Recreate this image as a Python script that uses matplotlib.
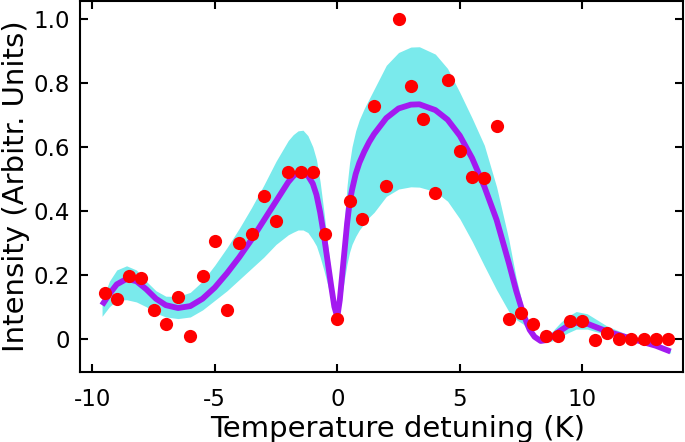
import matplotlib
matplotlib.use("Agg")
import matplotlib.pyplot as plt

plt.rcParams['axes.unicode_minus'] = False
plt.rcParams['font.family'] = ['DejaVu Sans']

# measured points
det = [-9.5, -9.0, -8.5, -8.0, -7.5, -7.0, -6.5, -6.0, -5.5, -5.0, -4.5, -4.0,
       -3.5, -3.0, -2.5, -2.0, -1.5, -1.0, -0.5, 0.0, 0.5, 1.0, 1.5, 2.0,
       2.5, 3.0, 3.5, 4.0, 4.5, 5.0, 5.5, 6.0, 6.5, 7.0, 7.5, 8.0, 8.5, 9.0,
       9.5, 10.0, 10.5, 11.0, 11.5, 12.0, 12.5, 13.0, 13.5]
inten = [0.143, 0.125, 0.195, 0.19, 0.09, 0.046, 0.132, 0.01, 0.195, 0.306,
         0.09, 0.30, 0.327, 0.445, 0.369, 0.52, 0.52, 0.52, 0.327, 0.062,
         0.432, 0.375, 0.728, 0.479, 1.0, 0.79, 0.688, 0.456, 0.808, 0.588,
         0.507, 0.502, 0.665, 0.062, 0.08, 0.046, 0.01, 0.01, 0.056, 0.056,
         -0.003, 0.017, 0.0, 0.0, 0.0, 0.0, 0.0]

# fitted curve and its confidence band
fit_x = [-9.6, -9.3, -9.0, -8.6, -8.2, -7.8, -7.4, -7.0, -6.5, -6.0, -5.5,
         -5.0, -4.5, -4.0, -3.5, -3.0, -2.5, -2.0, -1.8, -1.6, -1.4, -1.2,
         -1.0, -0.85, -0.7, -0.55, -0.4, -0.25, -0.12, 0.0, 0.1, 0.2, 0.3,
         0.4, 0.5, 0.6, 0.75, 0.9, 1.1, 1.3, 1.5, 2.0, 2.5, 3.0, 3.35, 4.0,
         4.5, 5.0, 5.5, 6.0, 6.5, 7.0, 7.3, 7.6, 7.85, 8.05, 8.3, 8.55, 8.8,
         9.1, 9.4, 9.75, 10.2, 11.0, 12.0, 13.0, 13.6]
fit_y = [0.105, 0.14, 0.17, 0.187, 0.18, 0.155, 0.125, 0.105, 0.096, 0.102,
         0.125, 0.16, 0.205, 0.255, 0.31, 0.37, 0.43, 0.49, 0.508, 0.52,
         0.521, 0.51, 0.485, 0.45, 0.395, 0.325, 0.245, 0.165, 0.1, 0.068,
         0.12, 0.2, 0.28, 0.36, 0.425, 0.465, 0.515, 0.55, 0.585, 0.615,
         0.64, 0.69, 0.72, 0.732, 0.733, 0.715, 0.685, 0.635, 0.565, 0.476,
         0.372, 0.237, 0.15, 0.075, 0.028, 0.006, -0.007, -0.004, 0.008,
         0.025, 0.04, 0.05, 0.047, 0.023, 0.0, -0.022, -0.04]
band_hi = [0.12, 0.18, 0.215, 0.228, 0.215, 0.18, 0.15, 0.133, 0.132, 0.145,
           0.18, 0.23, 0.285, 0.345, 0.41, 0.48, 0.555, 0.62, 0.638, 0.65,
           0.652, 0.635, 0.6, 0.56, 0.49, 0.4, 0.3, 0.2, 0.12, 0.072, 0.16,
           0.27, 0.38, 0.48, 0.55, 0.6, 0.65, 0.685, 0.72, 0.75, 0.78, 0.855,
           0.895, 0.912, 0.913, 0.89, 0.845, 0.77, 0.69, 0.605, 0.475, 0.31,
           0.19, 0.095, 0.035, 0.012, 0.0, 0.005, 0.025, 0.05, 0.07, 0.085,
           0.078, 0.04, 0.008, -0.015, -0.033]
band_lo = [0.07, 0.1, 0.12, 0.122, 0.115, 0.1, 0.08, 0.068, 0.063, 0.068,
           0.09, 0.12, 0.15, 0.185, 0.22, 0.255, 0.295, 0.325, 0.333, 0.34,
           0.34, 0.332, 0.31, 0.29, 0.255, 0.215, 0.17, 0.125, 0.085, 0.064,
           0.09, 0.14, 0.19, 0.235, 0.27, 0.295, 0.32, 0.34, 0.36, 0.38,
           0.395, 0.445, 0.468, 0.475, 0.474, 0.46, 0.43, 0.375, 0.305, 0.228,
           0.153, 0.085, 0.06, 0.045, 0.018, 0.0, -0.012, -0.012, -0.006,
           0.005, 0.018, 0.03, 0.03, 0.012, -0.005, -0.028, -0.045]

xticks = [-10, -5, 0, 5, 10]
yticks = [0, 0.2, 0.4, 0.6, 0.8, 1.0]
ytick_labels = ['0', '0.2', '0.4', '0.6', '0.8', '1.0']

fig = plt.figure(figsize=(6.85, 4.42), dpi=100)
ax = fig.add_axes([0.1168, 0.1577, 0.88, 0.84])

ax.fill_between(fit_x, band_lo, band_hi, color='#7aeaec', linewidth=0)
ax.plot(fit_x, fit_y, color='#a31af0', linewidth=4.2, solid_capstyle='butt')
ax.plot(det, inten, 'o', color='#ff0000', markersize=9.5, markeredgewidth=0)

ax.set_xlim(-10.5, 14.1)
ax.set_ylim(-0.105, 1.056)
ax.set_xticks(xticks)
ax.set_yticks(yticks)
ax.set_yticklabels(ytick_labels)
ax.tick_params(direction='in', top=True, right=True, length=6, width=1.5,
               labelsize=16.5)
ax.tick_params(axis='x', pad=11)
ax.tick_params(axis='y', pad=7)
for s in ax.spines.values():
    s.set_linewidth(1.5)

ax.set_xlabel('Temperature detuning (K)', fontsize=21, labelpad=1)
ax.xaxis.set_label_coords(0.527, -0.116, transform=ax.transAxes)
ax.xaxis.label.set_va('top')
ax.set_ylabel('Intensity (Arbitr. Units)', fontsize=21, labelpad=3)

fig.savefig('out.png', dpi=100)
